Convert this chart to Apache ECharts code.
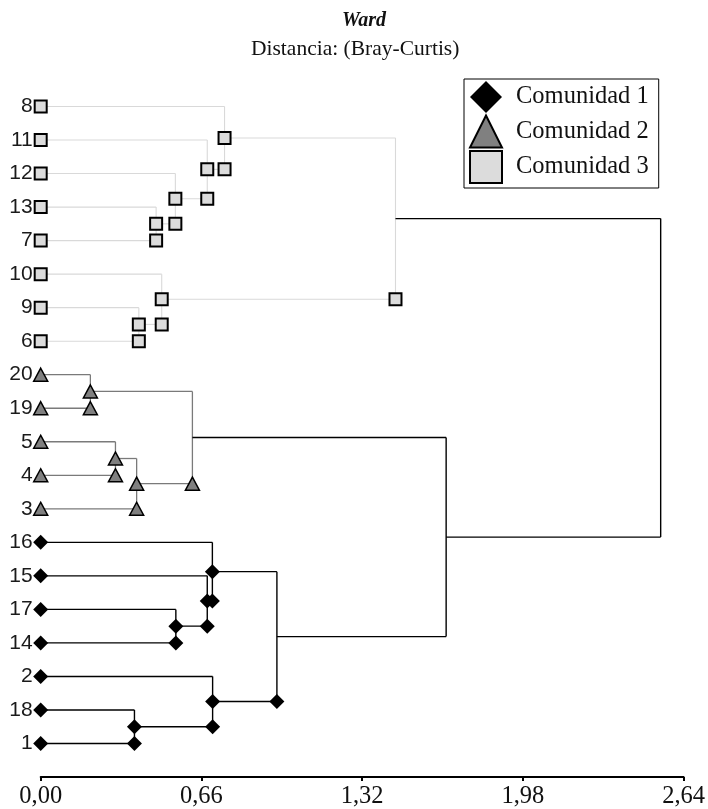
<!DOCTYPE html>
<html>
<head>
<meta charset="utf-8">
<script src="https://cdn.jsdelivr.net/npm/echarts@6/dist/echarts.min.js"></script>
<style>
html,body{margin:0;padding:0;background:#fff;}
#chart{width:708px;height:809px;}
</style>
</head>
<body>
<div id="chart"></div>
<script>
// ---- data ----
const leafLabels = ['8','11','12','13','7','10','9','6','20','19','5','4','3','16','15','17','14','2','18','1'];
const leafCommunity = [3,3,3,3,3,3,3,3,2,2,2,2,2,1,1,1,1,1,1,1];
// merges: [upper child, lower child, distance]; merge k gets id 'm'+k
const merges = [
  ['13','7',0.474],   // m0
  ['12','m0',0.553],  // m1
  ['11','m1',0.684],  // m2
  ['8','m2',0.755],   // m3
  ['9','6',0.403],    // m4
  ['10','m4',0.497],  // m5
  ['m3','m5',1.457],  // m6
  ['20','19',0.204],  // m7
  ['5','4',0.307],    // m8
  ['m8','3',0.394],   // m9
  ['m7','m9',0.623],  // m10
  ['17','14',0.555],  // m11
  ['15','m11',0.684], // m12
  ['16','m12',0.705], // m13
  ['18','1',0.385],   // m14
  ['2','m14',0.706],  // m15
  ['m13','m15',0.970],// m16
  ['m10','m16',1.665],// m17
  ['m6','m17',2.546]  // m18
];
const communityNames = ['Comunidad 1','Comunidad 2','Comunidad 3'];
const xTicks = [0, 0.66, 1.32, 1.98, 2.64];

// ---- styles ----
const lineColors = {0:'#000000',1:'#000000',2:'#7a7a7a',3:'#d9d9d9'};
const lineWidths = {0:1.4,1:1.4,2:1.3,3:1.1};

// ---- build tree geometry (data coordinates) ----
const nodes = {};
leafLabels.forEach((l,i)=>{ nodes[l] = {x:0, y:i, comm:leafCommunity[i], parent:null}; });
merges.forEach((m,k)=>{
  const u = nodes[m[0]], l = nodes[m[1]];
  const id = 'm'+k;
  nodes[id] = {x:m[2], y:(u.y+l.y)/2, comm:(u.comm===l.comm?u.comm:0), parent:null, upper:m[0], lower:m[1]};
  u.parent = id; l.parent = id;
});
const segs = [];
const markers = {1:[],2:[],3:[]};
merges.forEach((m,k)=>{
  const n = nodes['m'+k], u = nodes[m[0]], l = nodes[m[1]];
  segs.push([u.x,u.y,n.x,u.y,n.comm]);
  segs.push([l.x,l.y,n.x,l.y,n.comm]);
  segs.push([n.x,u.y,n.x,l.y,n.comm]);
  if (n.comm) markers[n.comm].push([n.x, l.y]);
});
Object.keys(nodes).forEach(id=>{
  const n = nodes[id];
  if (n.comm && n.parent && nodes[n.parent].comm) markers[n.comm].push([n.x, n.y]);
});

const chart = echarts.init(document.getElementById('chart'), null, {renderer:'canvas'});
chart.setOption({
  animation:false,
  backgroundColor:'#ffffff',
  title:[
    {text:'Ward', left:342, top:11, padding:0,
     textStyle:{fontFamily:'Liberation Serif', fontSize:20, fontWeight:'bold', fontStyle:'italic', color:'#111'}},
    {text:'Distancia: (Bray-Curtis)', left:251, top:38, padding:0,
     textStyle:{fontFamily:'Liberation Serif', fontSize:21.5, fontWeight:'normal', color:'#111'}}
  ],
  legend:{
    data:communityNames,
    orient:'vertical',
    left:464, top:79,
    padding:[2,10,4,5],
    itemWidth:32, itemHeight:32, itemGap:1.5,
    borderColor:'#000', borderWidth:1,
    backgroundColor:'#fff',
    textStyle:{fontFamily:'Liberation Serif', fontSize:24.5, color:'#111', padding:[0,0,0,9]}
  },
  grid:{left:40.7, right:21, top:106.5, bottom:31, containLabel:false},
  xAxis:{
    type:'value', position:'bottom', min:xTicks[0], max:xTicks[xTicks.length-1], interval:xTicks[1]-xTicks[0],
    axisLine:{show:true, onZero:false, lineStyle:{color:'#000', width:2}},
    axisTick:{show:true, length:4, lineStyle:{color:'#000', width:2}},
    splitLine:{show:false},
    axisLabel:{margin:7, fontFamily:'Liberation Serif', fontSize:24.5, color:'#111',
      formatter:v=>v.toFixed(2).replace('.',',')}
  },
  yAxis:{
    type:'value', inverse:true, min:0, max:20, interval:1,
    axisLine:{show:false, onZero:false}, axisTick:{show:false}, splitLine:{show:false},
    axisLabel:{margin:8, fontFamily:'Liberation Sans', fontSize:21, color:'#1a1a1a',
      formatter:v=> (leafLabels[v]!==undefined ? leafLabels[v] : '')}
  },
  series:[
    {
      type:'custom', name:'links', clip:false, z:2,
      encode:{x:[0,2], y:[1,3]},
      data:segs,
      renderItem:(params, api)=>{
        const p1 = api.coord([api.value(0), api.value(1)]);
        const p2 = api.coord([api.value(2), api.value(3)]);
        const c = api.value(4);
        return {type:'line', shape:{x1:p1[0],y1:p1[1],x2:p2[0],y2:p2[1]},
          style:{stroke:lineColors[c], lineWidth:lineWidths[c]}};
      }
    },
    {
      type:'scatter', name:communityNames[0], clip:false, z:5,
      symbol:'diamond', symbolSize:15,
      itemStyle:{color:'#000', opacity:1},
      data:markers[1]
    },
    {
      type:'scatter', name:communityNames[1], clip:false, z:5,
      symbol:'triangle', symbolSize:[14,13],
      itemStyle:{color:'#808080', borderColor:'#000', borderWidth:1.5, opacity:1},
      data:markers[2]
    },
    {
      type:'scatter', name:communityNames[2], clip:false, z:5,
      symbol:'rect', symbolSize:12,
      itemStyle:{color:'#dcdcdc', borderColor:'#000', borderWidth:2, opacity:1},
      data:markers[3]
    }
  ]
});
</script>
</body>
</html>
